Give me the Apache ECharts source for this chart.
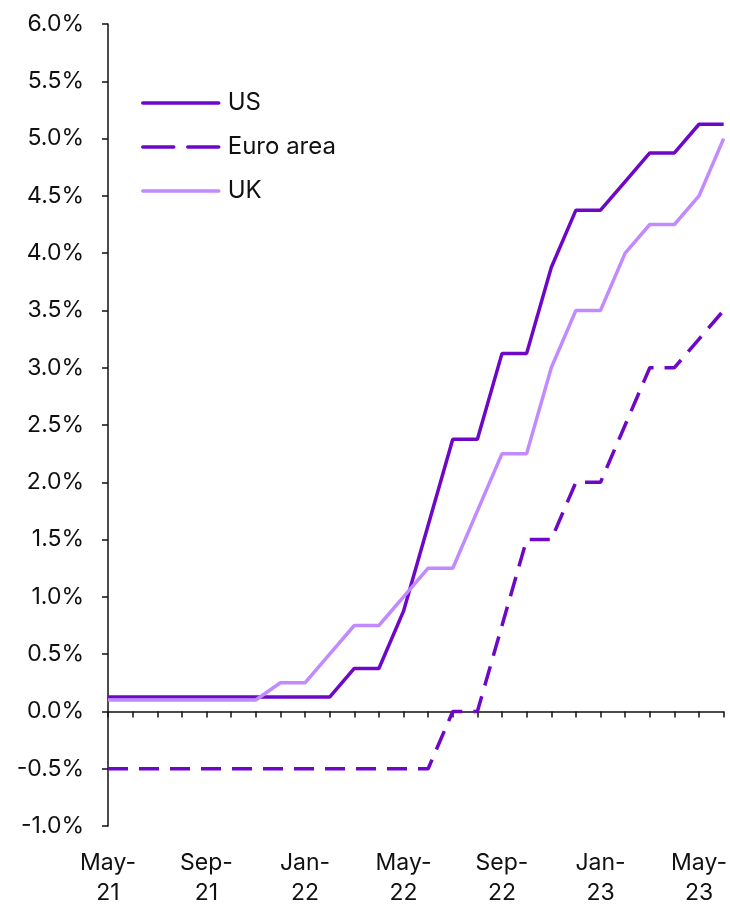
<!DOCTYPE html>
<html><head><meta charset="utf-8">
<script src="https://cdn.jsdelivr.net/npm/echarts@6/dist/echarts.min.js"></script>
<style>html,body{margin:0;padding:0;background:#fff}#c{width:730px;height:908px}</style>
</head><body><div id="c"></div>
<script>
const categories = ['May-21','Jun-21','Jul-21','Aug-21','Sep-21','Oct-21','Nov-21','Dec-21','Jan-22','Feb-22','Mar-22','Apr-22','May-22','Jun-22','Jul-22','Aug-22','Sep-22','Oct-22','Nov-22','Dec-22','Jan-23','Feb-23','Mar-23','Apr-23','May-23','Jun-23'];
const us   = [0.125,0.125,0.125,0.125,0.125,0.125,0.125,0.125,0.125,0.125,0.375,0.375,0.875,1.625,2.375,2.375,3.125,3.125,3.875,4.375,4.375,4.625,4.875,4.875,5.125,5.125];
const euro = [-0.5,-0.5,-0.5,-0.5,-0.5,-0.5,-0.5,-0.5,-0.5,-0.5,-0.5,-0.5,-0.5,-0.5,0.0,0.0,0.75,1.5,1.5,2.0,2.0,2.5,3.0,3.0,3.25,3.5];
const uk   = [0.1,0.1,0.1,0.1,0.1,0.1,0.1,0.25,0.25,0.5,0.75,0.75,1.0,1.25,1.25,1.75,2.25,2.25,3.0,3.5,3.5,4.0,4.25,4.25,4.5,5.0];
const seriesNames = ['US','Euro area','UK'];
const yMin = -1, yMax = 6, yStep = 0.5;

const FONT = 'Inter';
const dark = '#6F07C6', light = '#C18AFF';
const chart = echarts.init(document.getElementById('c'));
chart.setOption({
  animation: false,
  textStyle: {fontFamily: FONT},
  grid: {left: 108, right: 6, top: 24, bottom: 78, containLabel: false},
  legend: {
    orient: 'vertical', left: 136, top: 86, padding: 5,
    itemWidth: 76, itemHeight: 14, itemGap: 20,
    itemStyle: {opacity: 0},
    lineStyle: {cap: 'round', width: 3.5},
    textStyle: {fontFamily: FONT, fontSize: 24, color: '#111', padding: [0,0,0,4]},
    data: [
      {name: seriesNames[0]},
      {name: seriesNames[1], lineStyle: {type: [31, 14], cap: 'round', width: 3.5}},
      {name: seriesNames[2]}
    ]
  },
  xAxis: [{
    type: 'category', data: categories, boundaryGap: false,
    axisLine: {onZero: true, lineStyle: {color: '#111', width: 1.5}},
    axisTick: {show: true, inside: false, length: 6, interval: 0, lineStyle: {color: '#111', width: 1.5}},
    axisLabel: {show: false}, splitLine: {show: false}
  }, {
    type: 'category', data: categories, boundaryGap: false, position: 'bottom',
    axisLine: {show: false, onZero: false}, axisTick: {show: false},
    axisLabel: {
      interval: 3, margin: 22, fontFamily: FONT, fontSize: 23, color: '#111', lineHeight: 30,
      formatter: v => v.replace('-', '-\n')
    },
    splitLine: {show: false}
  }],
  yAxis: {
    type: 'value', min: yMin, max: yMax, interval: yStep,
    axisLine: {show: true, lineStyle: {color: '#111', width: 1.5}},
    axisTick: {show: true, length: 6, lineStyle: {color: '#111', width: 1.5}},
    axisLabel: {margin: 24, fontFamily: FONT, fontSize: 23, color: '#111', formatter: v => v.toFixed(1) + '%'},
    splitLine: {show: false}
  },
  series: [
    {name: seriesNames[0], type: 'line', data: us, symbol: 'none', xAxisIndex: 0,
     lineStyle: {color: dark, width: 3.5}, itemStyle: {color: dark}},
    {name: seriesNames[1], type: 'line', data: euro, symbol: 'none', xAxisIndex: 0,
     lineStyle: {color: dark, width: 3.5, type: [20, 11]}, itemStyle: {color: dark}},
    {name: seriesNames[2], type: 'line', data: uk, symbol: 'none', xAxisIndex: 0,
     lineStyle: {color: light, width: 3.5}, itemStyle: {color: light}}
  ]
});
</script></body></html>
